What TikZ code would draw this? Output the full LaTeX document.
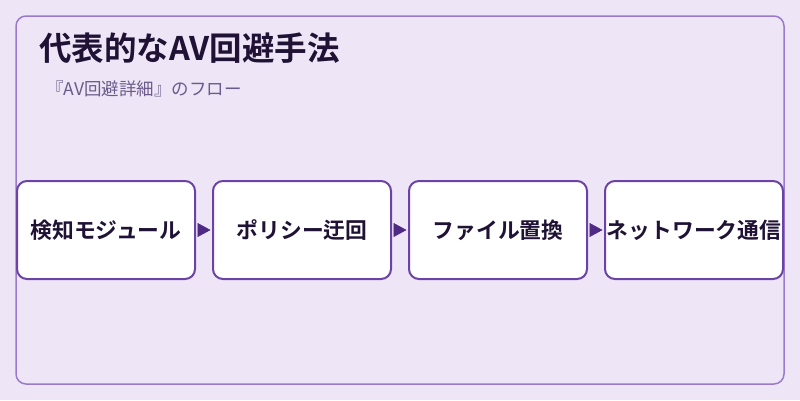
\documentclass[tikz,border=0pt]{standalone}
\usepackage{fontspec}
\newfontfamily\jp{Noto Sans CJK JP}[BoldFont={Noto Sans CJK JP Bold}]
\usetikzlibrary{arrows.meta}
\definecolor{bgc}{HTML}{EEE6F6}
\definecolor{framec}{HTML}{9A7BCB}
\definecolor{boxc}{HTML}{6B42A6}
\definecolor{arrowc}{HTML}{4F2A85}
\definecolor{titlec}{HTML}{1F1235}
\definecolor{subc}{HTML}{6B5B8B}
\tikzset{
  stepbox/.style={draw=boxc, line width=2pt, fill=white, rounded corners=10pt,
    minimum width=178pt, minimum height=98pt, inner sep=0pt,
    font=\jp\bfseries\fontsize{21.8}{24}\selectfont, text=titlec},
  flow/.style={draw=arrowc, line width=0.5pt, shorten <=3pt, shorten >=1.5pt,
    -{Triangle[length=13pt,width=14pt]}, fill=arrowc}
}
\begin{document}
\begin{tikzpicture}[x=1pt,y=-1pt]
\fill[bgc] (0,0) rectangle (800,400);
\useasboundingbox (0,0) rectangle (800,400);
\draw[framec, line width=1.5pt, rounded corners=10pt] (16,16) rectangle (784,384);
\node[anchor=base west, inner sep=0pt, text=titlec, font=\jp\bfseries\fontsize{32.5}{36}\selectfont] (title) at (39,60.5) {代表的なAV回避手法};
\node[anchor=base west, inner sep=0pt, text=subc, font=\jp\fontsize{17.5}{20}\selectfont] (sub) at (46,95.5) {『AV回避詳細』のフロー};
\node[stepbox] (b1) at (106,230) {検知モジュール};
\node[stepbox] (b2) at (302,230) {ポリシー迂回};
\node[stepbox] (b3) at (498,230) {ファイル置換};
\node[stepbox] (b4) at (694,230) {ネットワーク通信};
\draw[flow] (b1.east) -- (b2.west);
\draw[flow] (b2.east) -- (b3.west);
\draw[flow] (b3.east) -- (b4.west);
\end{tikzpicture}
\end{document}
